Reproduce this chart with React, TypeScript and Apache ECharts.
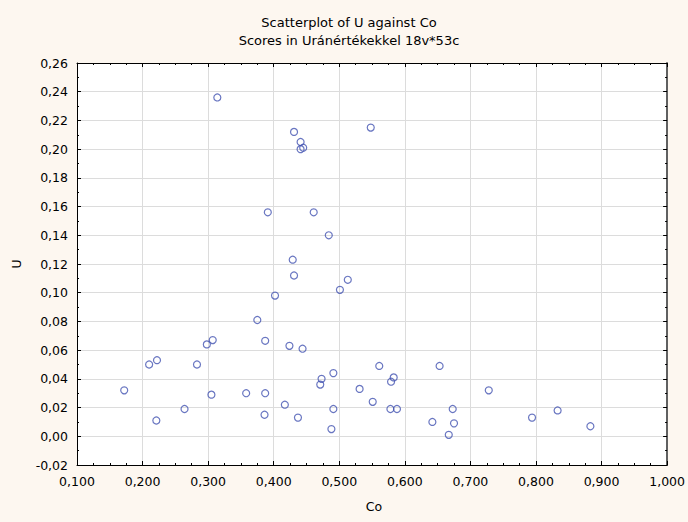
import React, { useEffect, useRef } from "react";
import * as echarts from "echarts";

const titleLines = ["Scatterplot of U against Co", "Scores in Uránértékekkel 18v*53c"];
const xName = "Co";
const yName = "U";

const coValues = [
  0.314, 0.431, 0.441, 0.441, 0.445, 0.391, 0.461, 0.484, 0.548, 0.429,
  0.431, 0.402, 0.501, 0.513, 0.375, 0.387, 0.424, 0.444, 0.298, 0.307,
  0.210, 0.222, 0.283, 0.172, 0.221, 0.264, 0.305, 0.358, 0.387, 0.386,
  0.417, 0.437, 0.473, 0.471, 0.491, 0.491, 0.488, 0.531, 0.561, 0.583,
  0.579, 0.551, 0.578, 0.588, 0.653, 0.642, 0.673, 0.675, 0.667, 0.728,
  0.794, 0.833, 0.883,
];
const uValues = [
  0.236, 0.212, 0.205, 0.200, 0.201, 0.156, 0.156, 0.140, 0.215, 0.123,
  0.112, 0.098, 0.102, 0.109, 0.081, 0.0665, 0.063, 0.061, 0.064, 0.067,
  0.050, 0.053, 0.050, 0.032, 0.011, 0.019, 0.029, 0.030, 0.030, 0.015,
  0.022, 0.013, 0.040, 0.036, 0.044, 0.019, 0.005, 0.033, 0.049, 0.041,
  0.038, 0.024, 0.019, 0.019, 0.049, 0.010, 0.019, 0.009, 0.001, 0.032,
  0.013, 0.018, 0.007,
];

const xMin = 0.1, xMax = 1.0, xStep = 0.1;
const yMin = -0.02, yMax = 0.26, yStep = 0.02;

const FONT = "DejaVu Sans";

export default function App() {
  const ref = useRef<HTMLDivElement>(null);
  useEffect(() => {
    if (!ref.current) return;
    const chart = echarts.init(ref.current, null, { renderer: "svg" });
    const fmtX = (v: number) => v.toFixed(3).replace(".", ",");
    const fmtY = (v: number) => v.toFixed(2).replace(".", ",");
    const baseX = {
      type: "value" as const,
      min: xMin,
      max: xMax,
      interval: xStep,
    };
    const baseY = {
      type: "value" as const,
      min: yMin,
      max: yMax,
      interval: yStep,
    };
    chart.setOption({
      animation: false,
      backgroundColor: "#FDF7F0",
      grid: {
        left: 77,
        right: 17,
        top: 63,
        bottom: 57,
        show: true,
        backgroundColor: "#ffffff",
        borderWidth: 0,
      },
      graphic: [
        {
          type: "text",
          x: 349,
          y: 22.5,
          style: {
            text: titleLines[0],
            font: `13px "${FONT}"`,
            fill: "#000",
            textAlign: "center",
            textVerticalAlign: "middle",
          },
        },
        {
          type: "text",
          x: 349,
          y: 40,
          style: {
            text: titleLines[1],
            font: `13px "${FONT}"`,
            fill: "#000",
            textAlign: "center",
            textVerticalAlign: "middle",
          },
        },
        {
          type: "text",
          x: 374,
          y: 506,
          style: {
            text: xName,
            font: `12.5px "${FONT}"`,
            fill: "#000",
            textAlign: "center",
            textVerticalAlign: "middle",
          },
        },
        {
          type: "text",
          x: 16,
          y: 264,
          rotation: Math.PI / 2,
          style: {
            text: yName,
            font: `12.5px "${FONT}"`,
            fill: "#000",
            textAlign: "center",
            textVerticalAlign: "middle",
          },
        },
      ],
      xAxis: [
        {
          ...baseX,
          position: "bottom",
          axisLine: { show: true, onZero: false, lineStyle: { color: "#000", width: 1 } },
          axisTick: { show: true, inside: true, length: 4, lineStyle: { color: "#000" } },
          minorTick: { show: true, splitNumber: 4, length: 2, lineStyle: { color: "#000" } },
          axisLabel: {
            show: true,
            margin: 10,
            formatter: fmtX,
            color: "#000",
            fontFamily: FONT,
            fontSize: 12.5,
          },
          splitLine: { show: true, lineStyle: { color: "#DCDCDC", width: 1 } },
        },
        {
          ...baseX,
          position: "top",
          axisLine: { show: true, onZero: false, lineStyle: { color: "#000", width: 1 } },
          axisTick: { show: true, inside: true, length: 4, lineStyle: { color: "#000" } },
          minorTick: { show: true, splitNumber: 4, length: 2, lineStyle: { color: "#000" } },
          axisLabel: { show: false },
          splitLine: { show: false },
        },
      ],
      yAxis: [
        {
          ...baseY,
          position: "left",
          axisLine: { show: true, onZero: false, lineStyle: { color: "#000", width: 1 } },
          axisTick: { show: true, inside: true, length: 4, lineStyle: { color: "#000" } },
          minorTick: { show: true, splitNumber: 2, length: 2, lineStyle: { color: "#000" } },
          axisLabel: {
            show: true,
            margin: 9,
            formatter: fmtY,
            color: "#000",
            fontFamily: FONT,
            fontSize: 12.5,
          },
          splitLine: { show: true, lineStyle: { color: "#DCDCDC", width: 1 } },
        },
        {
          ...baseY,
          position: "right",
          axisLine: { show: true, onZero: false, lineStyle: { color: "#606060", width: 2 } },
          axisTick: { show: true, inside: true, length: 4, lineStyle: { color: "#000" } },
          minorTick: { show: true, splitNumber: 2, length: 2, lineStyle: { color: "#000" } },
          axisLabel: { show: false },
          splitLine: { show: false },
        },
      ],
      series: [
        {
          type: "scatter",
          xAxisIndex: 0,
          yAxisIndex: 0,
          symbol: "circle",
          symbolSize: 7,
          itemStyle: {
            color: "rgba(0,0,0,0)",
            borderColor: "#4454B2",
            borderWidth: 1.2,
          },
          data: coValues.map((c, i) => [c, uValues[i]]),
        },
      ],
    });
    return () => chart.dispose();
  }, []);
  return (
    <div
      ref={ref}
      style={{ position: "fixed", left: 0, top: 0, width: 688, height: 522 }}
    />
  );
}
